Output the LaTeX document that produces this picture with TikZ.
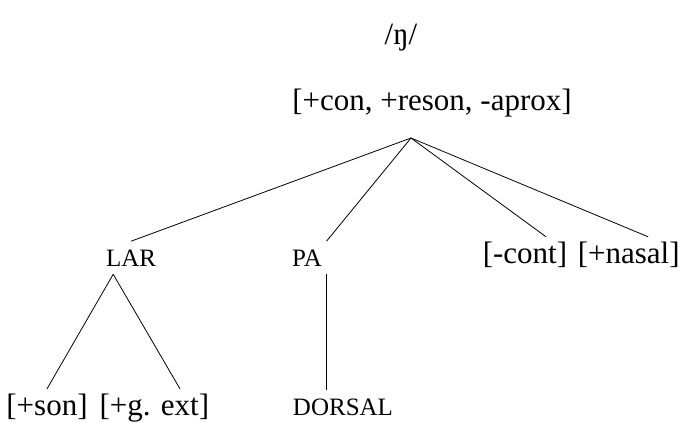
\documentclass[tikz,border=0pt]{standalone}
\usepackage{fontspec}
\setmainfont{Liberation Serif}
\usetikzlibrary{positioning,calc}

\begin{document}
\begin{tikzpicture}[
  x=0.75pt,y=-0.75pt,
  feat/.style={font=\fontsize{23.25}{28}\selectfont,anchor=base,inner sep=3.3pt},
  lbl/.style={font=\fontsize{18.75}{22}\selectfont,anchor=base,inner xsep=3.3pt,inner ysep=6pt},
  br/.style={line width=0.6pt}
]
\useasboundingbox (0,0) rectangle (681,422);
% segment and its root features
\node[feat] (phon) at (401,44) {/ŋ/};
\node[feat] (root) at (432,110) {[+con, +reson, -aprox]};
\coordinate (fork) at (411,138);
% daughters of the root
\node[lbl] (lar) at (131,266) {LAR};
\node[lbl] (pa) at (307,266) {PA};
\node[feat] (cont) at (525,263) {[-cont]};
\node[feat,base right=1pt of cont] (nasal) {[+nasal]};
% terminal features
\node[feat] (son) at (47,415) {[+son]};
\node[feat,base right=2pt of son] (gext) {[+g. ext]};
\node[lbl] (dorsal) at (343,415) {DORSAL};
\coordinate (larfork) at ($(lar.south)!0.6!(lar.south west)$);

\draw[br] (fork) -- (lar.north);
\draw[br] (fork) -- (pa.north east);
\draw[br] (fork) -- ($(cont.north)!0.45!(cont.north east)$);
\draw[br] (fork) -- ($(nasal.north)!0.35!(nasal.north east)$);
\draw[br] (larfork) -- (son.north);
\draw[br] (larfork) -- ($(gext.north)!0.43!(gext.north east)$);
\draw[br] (pa.south east) -- (pa.south east |- dorsal.north);
\end{tikzpicture}
\end{document}
